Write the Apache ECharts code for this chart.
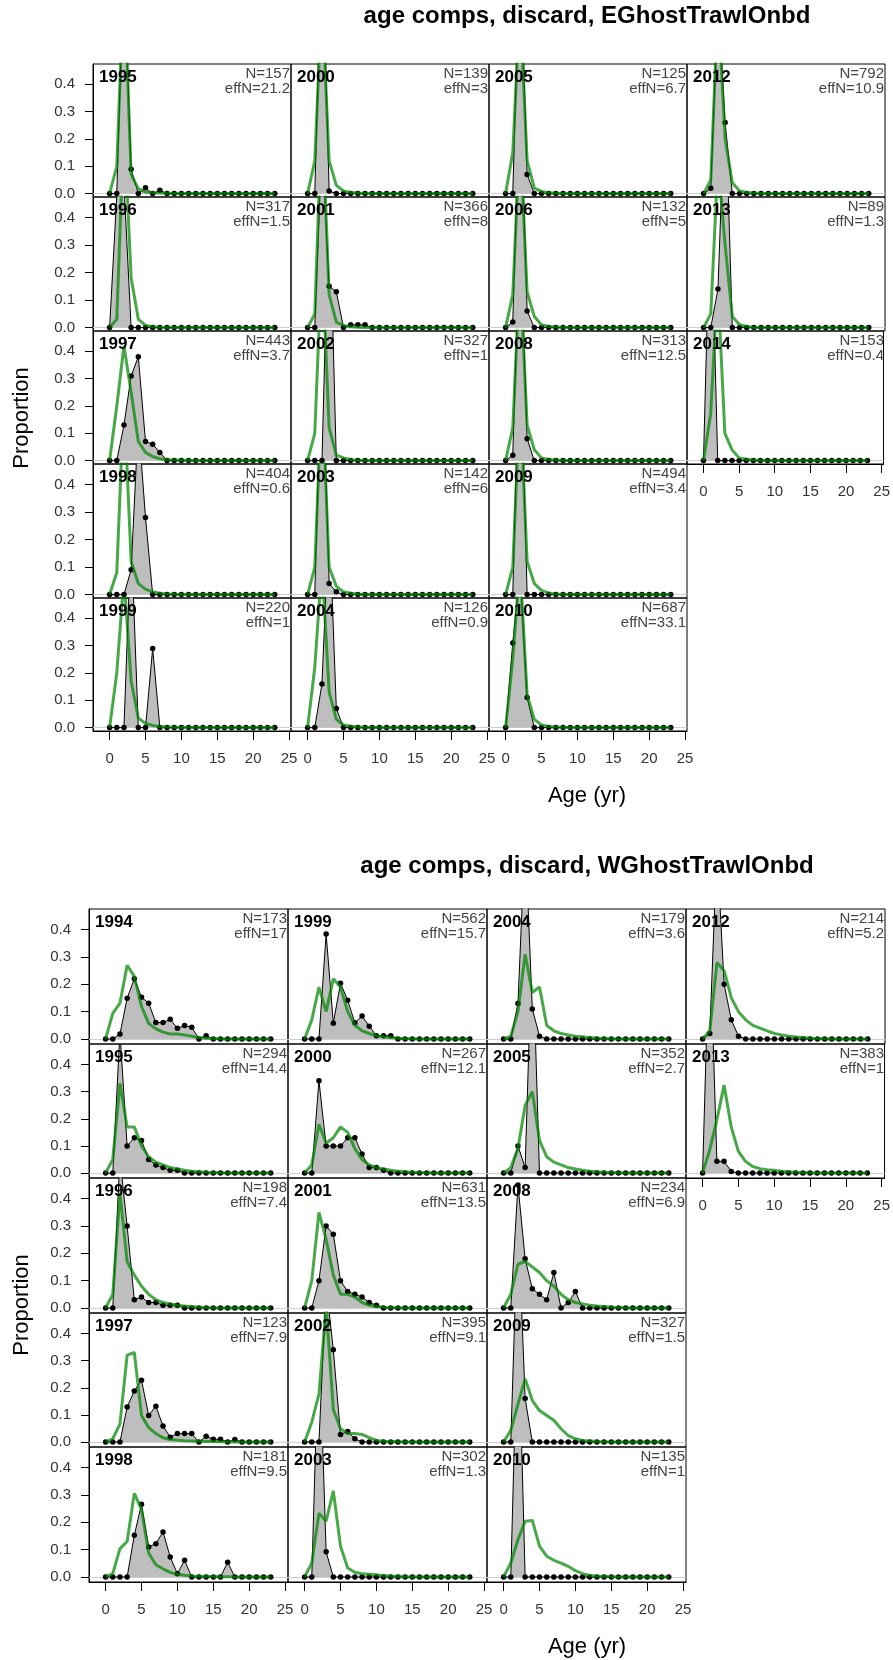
<!DOCTYPE html>
<html><head><meta charset="utf-8">
<script src="https://cdn.jsdelivr.net/npm/echarts@6/dist/echarts.min.js"></script>
<style>html,body{margin:0;padding:0;background:#fff}#c{width:893px;height:1660px}</style>
</head><body><div id="c"></div>
<script>
const ages = [0,1,2,3,4,5,6,7,8,9,10,11,12,13,14,15,16,17,18,19,20,21,22,23];
const xTicks = [0,5,10,15,20,25];
const yTicks = [0,0.1,0.2,0.3,0.4];

// ---------- EGhostTrawlOnbd ----------
const yearsE = ['1995','1996','1997','1998','1999','2000','2001','2002','2003','2004','2005','2006','2008','2009','2010','2012','2013','2014'];
const nE    = [157,317,443,404,220,139,366,327,142,126,125,132,313,494,687,792,89,153];
const effNE = ['21.2','1.5','3.7','0.6','1','3','8','1','6','0.9','6.7','5','12.5','3.4','33.1','10.9','1.3','0.4'];
const colCountE = [5,5,5,3];

const obsE1995 = [0,0,0.878,0.089,0,0.021,0,0.012,0,0,0,0,0,0,0,0,0,0,0,0,0,0,0,0];
const expE1995 = [0,0.10,0.80,0.07,0.018,0.006,0.003,0.002,0.001,0,0,0,0,0,0,0,0,0,0,0,0,0,0,0];
const obsE1996 = [0,0.48,0.52,0,0,0,0,0,0,0,0,0,0,0,0,0,0,0,0,0,0,0,0,0];
const expE1996 = [0,0.03,0.75,0.18,0.03,0.008,0.003,0.001,0,0,0,0,0,0,0,0,0,0,0,0,0,0,0,0];
const obsE1997 = [0,0,0.13,0.31,0.38,0.07,0.06,0.03,0,0,0,0,0,0,0,0,0,0,0,0,0,0,0,0];
const expE1997 = [0,0.2,0.42,0.25,0.07,0.03,0.015,0.007,0.003,0.002,0.001,0,0,0,0,0,0,0,0,0,0,0,0,0];
const obsE1998 = [0,0,0,0.09,0.63,0.28,0,0,0,0,0,0,0,0,0,0,0,0,0,0,0,0,0,0];
const expE1998 = [0,0.08,0.72,0.12,0.04,0.02,0.01,0.005,0.002,0.001,0,0,0,0,0,0,0,0,0,0,0,0,0,0];
const obsE1999 = [0,0,0,0.71,0,0,0.29,0,0,0,0,0,0,0,0,0,0,0,0,0,0,0,0,0];
const expE1999 = [0,0.2,0.55,0.17,0.035,0.015,0.008,0.004,0.002,0.001,0,0,0,0,0,0,0,0,0,0,0,0,0,0];
const obsE2000 = [0,0,0.99,0.01,0,0,0,0,0,0,0,0,0,0,0,0,0,0,0,0,0,0,0,0];
const expE2000 = [0,0.12,0.72,0.12,0.03,0.01,0.004,0.002,0.001,0,0,0,0,0,0,0,0,0,0,0,0,0,0,0];
const obsE2001 = [0,0,0.68,0.15,0.13,0,0.01,0.01,0.01,0,0,0,0,0,0,0,0,0,0,0,0,0,0,0];
const expE2001 = [0,0.05,0.8,0.12,0.02,0.008,0.003,0.001,0,0,0,0,0,0,0,0,0,0,0,0,0,0,0,0];
const obsE2002 = [0,0,0,1.0,0,0,0,0,0,0,0,0,0,0,0,0,0,0,0,0,0,0,0,0];
const expE2002 = [0,0.1,0.75,0.12,0.02,0.01,0.003,0.001,0,0,0,0,0,0,0,0,0,0,0,0,0,0,0,0];
const obsE2003 = [0,0,0.95,0.04,0.01,0,0,0,0,0,0,0,0,0,0,0,0,0,0,0,0,0,0,0];
const expE2003 = [0,0.1,0.75,0.1,0.03,0.01,0.005,0.002,0,0,0,0,0,0,0,0,0,0,0,0,0,0,0,0];
const obsE2004 = [0,0,0.16,0.77,0.07,0,0,0,0,0,0,0,0,0,0,0,0,0,0,0,0,0,0,0];
const expE2004 = [0,0.22,0.6,0.13,0.03,0.01,0.005,0.002,0,0,0,0,0,0,0,0,0,0,0,0,0,0,0,0];
const obsE2005 = [0,0,0.93,0.07,0,0,0,0,0,0,0,0,0,0,0,0,0,0,0,0,0,0,0,0];
const expE2005 = [0,0.15,0.7,0.12,0.02,0.008,0.003,0.001,0,0,0,0,0,0,0,0,0,0,0,0,0,0,0,0];
const obsE2006 = [0,0.02,0.92,0.06,0,0,0,0,0,0,0,0,0,0,0,0,0,0,0,0,0,0,0,0];
const expE2006 = [0,0.12,0.7,0.13,0.04,0.01,0.004,0.002,0,0,0,0,0,0,0,0,0,0,0,0,0,0,0,0];
const obsE2008 = [0,0.02,0.9,0.08,0,0,0,0,0,0,0,0,0,0,0,0,0,0,0,0,0,0,0,0];
const expE2008 = [0,0.12,0.7,0.13,0.04,0.01,0.004,0.002,0,0,0,0,0,0,0,0,0,0,0,0,0,0,0,0];
const obsE2009 = [0,0,1.0,0,0,0,0,0,0,0,0,0,0,0,0,0,0,0,0,0,0,0,0,0];
const expE2009 = [0,0.1,0.72,0.12,0.04,0.015,0.006,0.002,0,0,0,0,0,0,0,0,0,0,0,0,0,0,0,0];
const obsE2010 = [0,0.31,0.58,0.11,0,0,0,0,0,0,0,0,0,0,0,0,0,0,0,0,0,0,0,0];
const expE2010 = [0,0.25,0.6,0.12,0.03,0.01,0.004,0.002,0,0,0,0,0,0,0,0,0,0,0,0,0,0,0,0];
const obsE2012 = [0,0.02,0.72,0.26,0,0,0,0,0,0,0,0,0,0,0,0,0,0,0,0,0,0,0,0];
const expE2012 = [0,0.05,0.7,0.2,0.04,0.01,0.004,0.002,0,0,0,0,0,0,0,0,0,0,0,0,0,0,0,0];
const obsE2013 = [0,0,0.14,0.86,0,0,0,0,0,0,0,0,0,0,0,0,0,0,0,0,0,0,0,0];
const expE2013 = [0,0.05,0.6,0.3,0.04,0.01,0.004,0,0,0,0,0,0,0,0,0,0,0,0,0,0,0,0,0];
const obsE2014 = [0,1.0,0,0,0,0,0,0,0,0,0,0,0,0,0,0,0,0,0,0,0,0,0,0];
const expE2014 = [0,0.17,0.65,0.1,0.04,0.01,0.005,0.002,0,0,0,0,0,0,0,0,0,0,0,0,0,0,0,0];

// ---------- WGhostTrawlOnbd ----------
const yearsW = ['1994','1995','1996','1997','1998','1999','2000','2001','2002','2003','2004','2005','2008','2009','2010','2012','2013'];
const nW    = [173,294,198,123,181,562,267,631,395,302,179,352,234,327,135,214,383];
const effNW = ['17','14.4','7.4','7.9','9.5','15.7','12.1','13.5','9.1','1.3','3.6','2.7','6.9','1.5','1','5.2','1'];
const colCountW = [5,5,5,2];

const obsW1994 = [0,0,0.018,0.149,0.22,0.153,0.131,0.06,0.06,0.072,0.039,0.049,0.043,0,0.012,0,0,0,0,0,0,0,0,0];
const expW1994 = [0,0.094,0.131,0.27,0.229,0.119,0.057,0.037,0.025,0.018,0.018,0.015,0.01,0.005,0.003,0.002,0.001,0,0,0,0,0,0,0];
const obsW1995 = [0,0,0.52,0.1,0.13,0.12,0.05,0.03,0.02,0.01,0.01,0,0,0,0,0,0,0,0,0,0,0,0,0];
const expW1995 = [0,0.05,0.33,0.17,0.17,0.1,0.06,0.04,0.03,0.02,0.015,0.01,0.007,0.005,0.003,0.002,0.001,0,0,0,0,0,0,0];
const obsW1996 = [0,0,0.55,0.3,0.03,0.04,0.02,0.02,0.01,0.01,0.01,0,0,0,0,0,0,0,0,0,0,0,0,0];
const expW1996 = [0,0.05,0.42,0.17,0.12,0.08,0.05,0.03,0.02,0.015,0.01,0.007,0.005,0.003,0.002,0.001,0,0,0,0,0,0,0,0];
const obsW1997 = [0,0,0,0.129,0.188,0.228,0.098,0.132,0.059,0.018,0.031,0.031,0.031,0,0.021,0.01,0.01,0,0.009,0,0,0,0,0];
const expW1997 = [0,0.012,0.067,0.32,0.33,0.098,0.053,0.031,0.016,0.009,0.007,0.005,0.004,0.003,0.002,0.002,0.001,0.001,0,0,0,0,0,0];
const obsW1998 = [0,0,0,0,0.153,0.266,0.11,0.122,0.165,0.073,0.012,0.061,0,0,0,0,0,0.054,0,0,0,0,0,0];
const expW1998 = [0,0.012,0.104,0.13,0.306,0.247,0.088,0.045,0.03,0.017,0.01,0.006,0.004,0.003,0.002,0.002,0.001,0.001,0,0,0,0,0,0];
const obsW1999 = [0,0,0,0.384,0.058,0.204,0.142,0.059,0.084,0.047,0.012,0.012,0.012,0,0,0,0,0,0,0,0,0,0,0];
const expW1999 = [0,0.07,0.19,0.1,0.22,0.19,0.1,0.05,0.03,0.02,0.012,0.008,0.005,0.003,0.002,0.001,0,0,0,0,0,0,0,0];
const obsW2000 = [0,0,0.34,0.1,0.1,0.1,0.13,0.13,0.07,0.02,0.02,0.01,0,0,0,0,0,0,0,0,0,0,0,0];
const expW2000 = [0,0.03,0.18,0.11,0.13,0.17,0.15,0.09,0.05,0.03,0.02,0.015,0.01,0.007,0.005,0.003,0.002,0.001,0,0,0,0,0,0];
const obsW2001 = [0,0,0.1,0.3,0.27,0.1,0.06,0.05,0.04,0.02,0.01,0,0,0,0,0,0,0,0,0,0,0,0,0];
const expW2001 = [0,0.1,0.35,0.25,0.12,0.05,0.05,0.04,0.02,0.01,0.005,0.003,0.002,0.001,0,0,0,0,0,0,0,0,0,0];
const obsW2002 = [0,0,0,0.58,0.34,0.028,0.039,0.012,0,0,0,0,0,0,0,0,0,0,0,0,0,0,0,0];
const expW2002 = [0,0.073,0.177,0.5,0.12,0.049,0.031,0.031,0.028,0.016,0.006,0.003,0.002,0.001,0,0,0,0,0,0,0,0,0,0];
const obsW2003 = [0,0,0.908,0.092,0,0,0,0,0,0,0,0,0,0,0,0,0,0,0,0,0,0,0,0];
const expW2003 = [0,0.051,0.233,0.204,0.315,0.113,0.033,0.017,0.012,0.01,0.008,0.005,0.003,0.002,0.001,0,0,0,0,0,0,0,0,0];
const obsW2004 = [0,0,0.13,0.75,0.11,0.01,0,0,0,0,0,0,0,0,0,0,0,0,0,0,0,0,0,0];
const expW2004 = [0,0.01,0.1,0.31,0.17,0.19,0.05,0.03,0.02,0.015,0.01,0.008,0.005,0.003,0.002,0.001,0,0,0,0,0,0,0,0];
const obsW2005 = [0,0,0.1,0.02,0.88,0,0,0,0,0,0,0,0,0,0,0,0,0,0,0,0,0,0,0];
const expW2005 = [0,0.02,0.09,0.25,0.3,0.12,0.06,0.04,0.03,0.02,0.015,0.01,0.007,0.005,0.003,0.002,0.001,0,0,0,0,0,0,0];
const obsW2008 = [0,0,0.45,0.18,0.07,0.05,0.03,0.13,0,0.02,0.06,0,0,0,0,0,0,0,0,0,0,0,0,0];
const expW2008 = [0,0.05,0.16,0.17,0.15,0.13,0.1,0.08,0.05,0.03,0.02,0.015,0.01,0.007,0.005,0.003,0.002,0.001,0,0,0,0,0,0];
const obsW2009 = [0,0,0.84,0.16,0,0,0,0,0,0,0,0,0,0,0,0,0,0,0,0,0,0,0,0];
const expW2009 = [0,0.043,0.14,0.233,0.153,0.116,0.098,0.08,0.049,0.024,0.012,0.006,0.004,0.002,0.001,0,0,0,0,0,0,0,0,0];
const obsW2010 = [0,0,1.0,0,0,0,0,0,0,0,0,0,0,0,0,0,0,0,0,0,0,0,0,0];
const expW2010 = [0,0.051,0.137,0.204,0.207,0.113,0.076,0.061,0.051,0.039,0.023,0.012,0.006,0.003,0.002,0.001,0,0,0,0,0,0,0,0];
const obsW2012 = [0,0.02,0.7,0.2,0.07,0.01,0,0,0,0,0,0,0,0,0,0,0,0,0,0,0,0,0,0];
const expW2012 = [0,0.03,0.28,0.25,0.15,0.1,0.07,0.05,0.04,0.03,0.02,0.015,0.01,0.007,0.005,0.003,0.002,0.001,0,0,0,0,0,0];
const obsW2013 = [0,0.908,0.043,0.043,0.006,0,0,0,0,0,0,0,0,0,0,0,0,0,0,0,0,0,0,0];
const expW2013 = [0,0.085,0.196,0.324,0.17,0.08,0.043,0.024,0.016,0.012,0.01,0.007,0.005,0.003,0.002,0.001,0,0,0,0,0,0,0,0];

const obsE = [obsE1995,obsE1996,obsE1997,obsE1998,obsE1999,obsE2000,obsE2001,obsE2002,obsE2003,obsE2004,obsE2005,obsE2006,obsE2008,obsE2009,obsE2010,obsE2012,obsE2013,obsE2014];
const expE = [expE1995,expE1996,expE1997,expE1998,expE1999,expE2000,expE2001,expE2002,expE2003,expE2004,expE2005,expE2006,expE2008,expE2009,expE2010,expE2012,expE2013,expE2014];
const obsW = [obsW1994,obsW1995,obsW1996,obsW1997,obsW1998,obsW1999,obsW2000,obsW2001,obsW2002,obsW2003,obsW2004,obsW2005,obsW2008,obsW2009,obsW2010,obsW2012,obsW2013];
const expW = [expW1994,expW1995,expW1996,expW1997,expW1998,expW1999,expW2000,expW2001,expW2002,expW2003,expW2004,expW2005,expW2008,expW2009,expW2010,expW2012,expW2013];

const FONT = '"Liberation Sans", Arial, sans-serif';
const panels = [
  {title:'age comps, discard, EGhostTrawlOnbd', titleY:16, left:93, top:64, colW:198, rowH:133.4, zeroOff:3.4, ppu:274,
   ylabY:418, ageY:796, years:yearsE, n:nE, effN:effNE, obs:obsE, exp:expE, colCount:colCountE},
  {title:'age comps, discard, WGhostTrawlOnbd', titleY:866, left:89, top:909, colW:199, rowH:134.6, zeroOff:5, ppu:272.5,
   ylabY:1305, ageY:1647, years:yearsW, n:nW, effN:effNW, obs:obsW, exp:expW, colCount:colCountW}
];

const grids=[], xAxes=[], yAxes=[], series=[], graphics=[];
const X0OFF = 16.6, PXYR = 7.18;

panels.forEach(P => {
  let k = 0;
  const yMin = -P.zeroOff / P.ppu, yMax = (P.rowH - P.zeroOff) / P.ppu;
  const xMin = -X0OFF / PXYR, xMax = (P.colW - X0OFF) / PXYR;
  P.colCount.forEach((cnt, c) => {
    for (let r = 0; r < cnt; r++, k++) {
      const gi = grids.length;
      const left = Math.round(P.left + c * P.colW), top = Math.round(P.top + r * P.rowH);
      const right = Math.round(P.left + (c + 1) * P.colW), bot = Math.round(P.top + (r + 1) * P.rowH);
      grids.push({left:left, top:top, width:right-left, height:bot-top, show:true, borderColor:'#000', borderWidth:1, backgroundColor:'rgba(0,0,0,0)'});
      const bottom = (r === cnt - 1);
      xAxes.push({gridIndex:gi, type:'value', min:xMin, max:xMax,
        axisLine:{show:bottom, onZero:false, lineStyle:{color:'#000', width:1}},
        splitLine:{show:false},
        axisTick:{show:bottom, customValues:xTicks, length:9, lineStyle:{color:'#000'}},
        axisLabel:{show:bottom, customValues:xTicks, margin:20, fontSize:15, color:'#333', fontFamily:FONT}});
      yAxes.push({gridIndex:gi, type:'value', min:yMin, max:yMax,
        axisLine:{show:c===0, onZero:false, lineStyle:{color:'#000', width:1}},
        splitLine:{show:false},
        axisTick:{show:c===0, customValues:yTicks, length:8, lineStyle:{color:'#000'}},
        axisLabel:{show:c===0, customValues:yTicks, margin:18, fontSize:15, color:'#333', fontFamily:FONT,
                   formatter: v => v.toFixed(1)}});
      const o = P.obs[k], e = P.exp[k];
      series.push({type:'line', xAxisIndex:gi, yAxisIndex:gi, data:[], z:1, silent:true, animation:false,
        markLine:{z:1, silent:true, symbol:['none','none'], label:{show:false}, animation:false,
          lineStyle:{color:'#cfcfcf', width:1.2, type:'solid'}, data:[{yAxis:0}]}});
      series.push({type:'line', xAxisIndex:gi, yAxisIndex:gi, data:ages.map((a,i)=>[a,o[i]]),
        symbol:'circle', symbolSize:5.5, showSymbol:true, showAllSymbol:true, itemStyle:{color:'#000', borderWidth:0, opacity:1},
        lineStyle:{color:'#000', width:1}, areaStyle:{color:'#bebebe', opacity:1},
        clip:true, animation:false, silent:true, z:2});
      series.push({type:'line', xAxisIndex:gi, yAxisIndex:gi, data:ages.map((a,i)=>[a,e[i]]),
        symbol:'none', lineStyle:{color:'rgba(0,135,0,0.72)', width:3}, clip:true, animation:false, silent:true, z:3});
      graphics.push({type:'text', x:left+6, y:top+13, z:10, style:{text:P.years[k], font:'bold 17px '+FONT, fill:'#000', textAlign:'left', textVerticalAlign:'middle', verticalAlign:'middle'}});
      graphics.push({type:'text', x:right-1, y:top+10, z:10, style:{text:'N='+P.n[k], font:'15px '+FONT, fill:'#444', textAlign:'right', textVerticalAlign:'middle', verticalAlign:'middle'}});
      graphics.push({type:'text', x:right-1, y:top+25, z:10, style:{text:'effN='+P.effN[k], font:'15px '+FONT, fill:'#444', textAlign:'right', textVerticalAlign:'middle', verticalAlign:'middle'}});
    }
  });
  graphics.push({type:'text', x:587, y:P.titleY, style:{text:P.title, font:'bold 24px '+FONT, fill:'#000', textAlign:'center', textVerticalAlign:'middle', verticalAlign:'middle'}});
  graphics.push({type:'text', x:587, y:P.ageY, style:{text:'Age (yr)', font:'22px '+FONT, fill:'#000', textAlign:'center', textVerticalAlign:'middle', verticalAlign:'middle'}});
  graphics.push({type:'text', x:22, y:P.ylabY, rotation:Math.PI/2, style:{text:'Proportion', font:'22px '+FONT, fill:'#000', textAlign:'center', textVerticalAlign:'middle', verticalAlign:'middle'}});
});

const chart = echarts.init(document.getElementById('c'), null, {renderer:'canvas', width:893, height:1660});
chart.setOption({animation:false, backgroundColor:'#fff', grid:grids, xAxis:xAxes, yAxis:yAxes, series:series, graphic:graphics});
</script></body></html>
